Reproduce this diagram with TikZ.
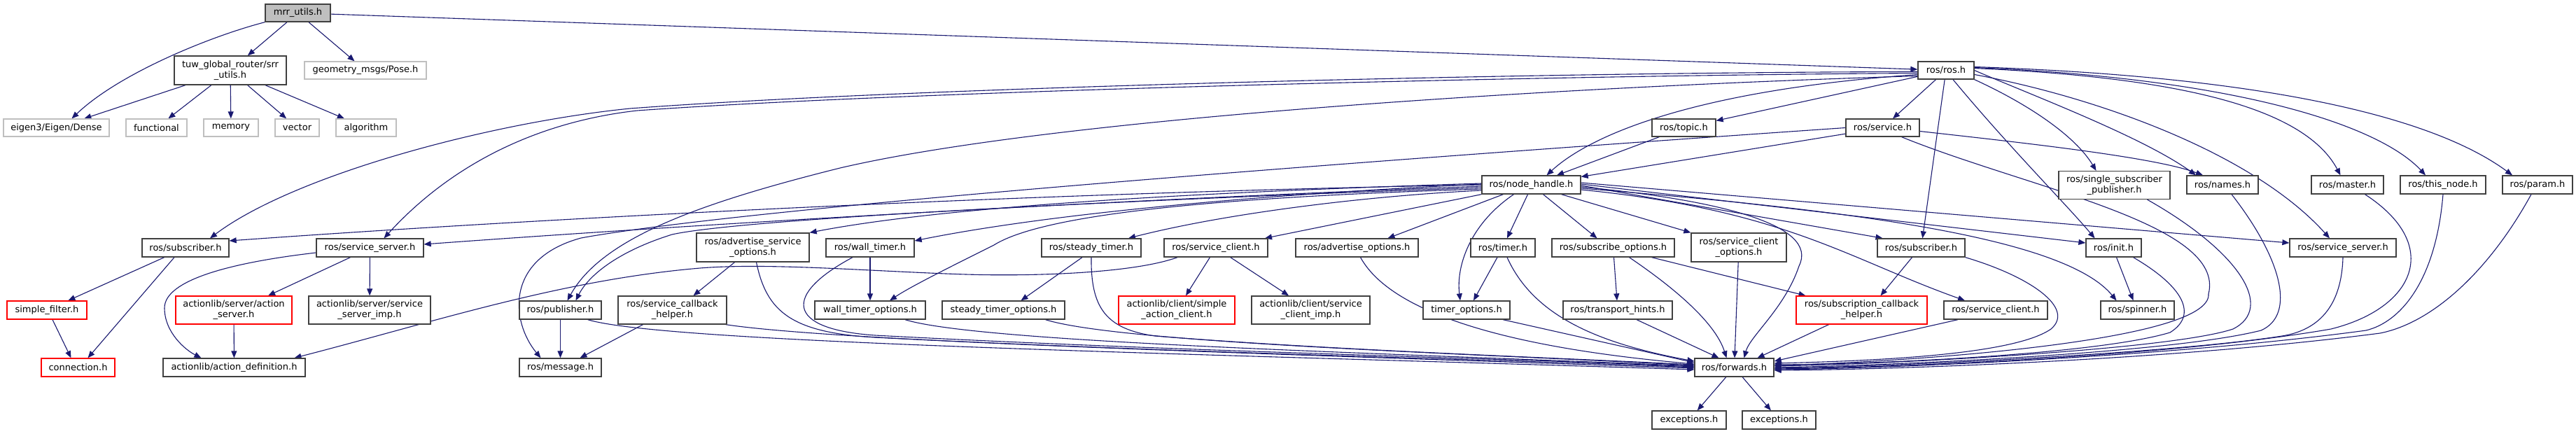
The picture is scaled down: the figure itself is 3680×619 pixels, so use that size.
\documentclass[tikz,border=0pt]{standalone}
\usepackage{fontspec}
\setmainfont{DejaVu Sans}
\usetikzlibrary{arrows.meta}
\definecolor{edgeblue}{HTML}{191970}
\definecolor{nodegray}{HTML}{BFBFBF}
\definecolor{nodeborder}{HTML}{404040}
\pgfdeclarelayer{back}
\pgfdeclarelayer{edges}
\pgfsetlayers{back,edges,main}
\begin{document}
\begin{tikzpicture}[x=1pt,y=-1pt,
  nb/.style={draw=nodeborder, line width=1.3pt, fill=white, inner sep=0pt, align=center, font=\fontsize{13}{15}\selectfont},
  ext/.style={nb, draw=nodegray},
  redn/.style={nb, draw=red},
  root/.style={nb, fill=nodegray},
  dep/.style={draw=edgeblue, line width=1.1pt, -{Triangle[length=10pt,width=8pt]}}]
\begin{pgfonlayer}{back}
\fill[white] (0,0) rectangle (3680,619);
\end{pgfonlayer}
\useasboundingbox (0,0) rectangle (3680,619);
% ---- nodes ----
\node[root, minimum width=93pt, minimum height=25pt] (mrr) at (425.5,18.5) {mrr\_utils.h};
\node[nb, minimum width=160pt, minimum height=41pt] (tuw) at (329,100.5) {tuw\_global\_router/srr\\\_utils.h};
\node[ext, minimum width=174pt, minimum height=25pt] (geom) at (522,100.5) {geometry\_msgs/Pose.h};
\node[nb, minimum width=80pt, minimum height=25pt] (rosh) at (2780,100.5) {ros/ros.h};
\node[ext, minimum width=151pt, minimum height=25pt] (eigen) at (80.5,182.5) {eigen3/Eigen/Dense};
\node[ext, minimum width=87pt, minimum height=25pt] (functional) at (223.5,182.5) {functional};
\node[ext, minimum width=78pt, minimum height=25pt] (memory) at (330,182.5) {memory};
\node[ext, minimum width=63pt, minimum height=25pt] (vector) at (424.5,182.5) {vector};
\node[ext, minimum width=86pt, minimum height=25pt] (algorithm) at (523,182.5) {algorithm};
\node[nb, minimum width=91pt, minimum height=25pt] (topic) at (2405.5,182.5) {ros/topic.h};
\node[nb, minimum width=105pt, minimum height=25pt] (service) at (2689.5,182.5) {ros/service.h};
\node[nb, minimum width=141pt, minimum height=26pt] (nh) at (2187.5,264) {ros/node\_handle.h};
\node[nb, minimum width=159pt, minimum height=40pt] (sspub) at (3020.5,264.5) {ros/single\_subscriber\\\_publisher.h};
\node[nb, minimum width=102pt, minimum height=26pt] (names) at (3175,264) {ros/names.h};
\node[nb, minimum width=103pt, minimum height=26pt] (master) at (3353.5,264) {ros/master.h};
\node[nb, minimum width=122pt, minimum height=26pt] (thisnode) at (3490,264) {ros/this\_node.h};
\node[nb, minimum width=100pt, minimum height=26pt] (param) at (3625,264) {ros/param.h};
\node[nb, minimum width=124pt, minimum height=26pt] (subL) at (265,354) {ros/subscriber.h};
\node[nb, minimum width=153pt, minimum height=26pt] (ssL) at (528.5,354) {ros/service\_server.h};
\node[nb, minimum width=161pt, minimum height=41pt] (aso) at (1075.5,353.5) {ros/advertise\_service\\\_options.h};
\node[nb, minimum width=126pt, minimum height=26pt] (wallt) at (1243,354) {ros/wall\_timer.h};
\node[nb, minimum width=142pt, minimum height=26pt] (steadyt) at (1559,354) {ros/steady\_timer.h};
\node[nb, minimum width=148pt, minimum height=26pt] (scU) at (1737,354) {ros/service\_client.h};
\node[nb, minimum width=175pt, minimum height=26pt] (advo) at (1938.5,354) {ros/advertise\_options.h};
\node[nb, minimum width=92pt, minimum height=26pt] (timer) at (2147,354) {ros/timer.h};
\node[nb, minimum width=175pt, minimum height=26pt] (subo) at (2304.5,354) {ros/subscribe\_options.h};
\node[nb, minimum width=136pt, minimum height=41pt] (sco) at (2484,353.5) {ros/service\_client\\\_options.h};
\node[nb, minimum width=125pt, minimum height=26pt] (subR) at (2744.5,354) {ros/subscriber.h};
\node[nb, minimum width=79pt, minimum height=26pt] (init) at (3019.5,354) {ros/init.h};
\node[nb, minimum width=152pt, minimum height=26pt] (ssR) at (3347,354) {ros/service\_server.h};
\node[redn, minimum width=114pt, minimum height=26pt] (sfilter) at (67,443) {simple\_filter.h};
\node[redn, minimum width=166pt, minimum height=40pt] (aserver) at (334,443) {actionlib/server/action\\\_server.h};
\node[nb, minimum width=174pt, minimum height=40pt] (ssimp) at (528,443) {actionlib/server/service\\\_server\_imp.h};
\node[nb, minimum width=117pt, minimum height=26pt] (pub) at (800.5,443) {ros/publisher.h};
\node[nb, minimum width=155pt, minimum height=40pt] (sch) at (960.5,443) {ros/service\_callback\\\_helper.h};
\node[nb, minimum width=158pt, minimum height=26pt] (wto) at (1243,443) {wall\_timer\_options.h};
\node[nb, minimum width=175pt, minimum height=26pt] (sto) at (1433.5,443) {steady\_timer\_options.h};
\node[redn, minimum width=166pt, minimum height=40pt] (sac) at (1681,443) {actionlib/client/simple\\\_action\_client.h};
\node[nb, minimum width=169pt, minimum height=40pt] (sci) at (1872.5,443) {actionlib/client/service\\\_client\_imp.h};
\node[nb, minimum width=124pt, minimum height=26pt] (tio) at (2095,443) {timer\_options.h};
\node[nb, minimum width=156pt, minimum height=26pt] (th) at (2311,443) {ros/transport\_hints.h};
\node[redn, minimum width=187pt, minimum height=40pt] (scbh) at (2659.5,443) {ros/subscription\_callback\\\_helper.h};
\node[nb, minimum width=148pt, minimum height=26pt] (scL) at (2851,443) {ros/service\_client.h};
\node[nb, minimum width=105pt, minimum height=26pt] (spinner) at (3053.5,443) {ros/spinner.h};
\node[redn, minimum width=105pt, minimum height=26pt] (conn) at (111.5,525) {connection.h};
\node[nb, minimum width=203pt, minimum height=26pt] (adef) at (334.5,525) {actionlib/action\_definition.h};
\node[nb, minimum width=117pt, minimum height=26pt] (msg) at (800.5,525) {ros/message.h};
\node[nb, minimum width=113pt, minimum height=26pt] (fwd) at (2477.5,525) {ros/forwards.h};
\node[nb, minimum width=106pt, minimum height=26pt] (exc1) at (2413,600) {exceptions.h};
\node[nb, minimum width=105pt, minimum height=26pt] (exc2) at (2541.5,600) {exceptions.h};
% ---- edges ----
\begin{pgfonlayer}{edges}
% mrr_utils.h
\draw[dep] (mrr.south west) .. controls (300,52) and (170,105) .. ([xshift=22pt]eigen.north);
\draw[dep] (mrr) -- (tuw);
\draw[dep] (mrr) -- (geom);
\draw[dep] (mrr) -- (rosh);
% srr_utils.h
\draw[dep] (tuw) -- (eigen);
\draw[dep] (tuw) -- (functional);
\draw[dep] (tuw) -- (memory);
\draw[dep] (tuw) -- (vector);
\draw[dep] (tuw) -- (algorithm);
% ros.h
\draw[dep] ([yshift=-6pt]rosh.west) .. controls (2430,128) and (2275,190) .. ([xshift=22pt]nh.north);
\draw[dep] (rosh) -- (topic);
\draw[dep] (rosh) -- (service);
\draw[dep] (rosh) -- (subR);
\draw[dep] ([yshift=-2pt]rosh.west) .. controls (2200,103) and (1300,125) .. (900,155) .. controls (700,175) and (420,250) .. ([xshift=35pt]subL.north);
\draw[dep] ([yshift=-4pt]rosh.west) .. controls (2200,108) and (1300,130) .. (910,158) .. controls (760,175) and (640,240) .. ([xshift=20pt]ssL.north);
\draw[dep] ([yshift=-8pt]rosh.west) .. controls (2200,125) and (1500,170) .. (1200,240) .. controls (1000,290) and (860,340) .. ([xshift=10pt]pub.north);
\draw[dep] (rosh.south east) .. controls (2900,150) and (2965,195) .. ([xshift=-26pt]sspub.north);
\draw[dep] (rosh.east) .. controls (2900,135) and (3060,195) .. ([xshift=-38pt]names.north);
\draw[dep] ([yshift=3pt]rosh.east) .. controls (3100,110) and (3290,150) .. ([xshift=-10pt]master.north);
\draw[dep] ([yshift=4pt]rosh.east) .. controls (3200,112) and (3400,180) .. ([xshift=-25pt]thisnode.north);
\draw[dep] ([yshift=5pt]rosh.east) .. controls (3250,110) and (3480,170) .. ([xshift=-36pt]param.north);
\draw[dep] ([yshift=-6pt]rosh.east) .. controls (3000,140) and (3220,220) .. ([xshift=-19pt]ssR.north);
\draw[dep] ([xshift=10pt]rosh.south) .. controls (2870,210) and (2950,290) .. ([xshift=-27pt]init.north);
% topic.h, service.h
\draw[dep] (topic) -- (nh);
\draw[dep] (service) -- (nh);
\draw[dep] ([yshift=-5pt]service.east) .. controls (2900,205) and (3080,225) .. ([xshift=-28pt]names.north);
\draw[dep] (service.west) .. controls (1800,240) and (1050,300) .. (830,340) .. controls (720,370) and (730,460) .. ([xshift=-28pt]msg.north);
\draw[dep] ([xshift=27pt]service.south) .. controls (2900,270) and (3180,320) .. (3155,420) .. controls (3160,490) and (2700,518) .. ([yshift=3pt]fwd.east);
% node_handle.h
\draw[dep] (nh.west) .. controls (1500,275) and (800,310) .. ([yshift=10pt]subL.east);
\draw[dep] ([yshift=-2pt]nh.west) .. controls (1600,285) and (1000,320) .. ([yshift=5pt]ssL.east);
\draw[dep] ([yshift=-4pt]nh.west) .. controls (1500,290) and (1050,315) .. (960,335) .. controls (880,360) and (840,395) .. ([xshift=22pt]pub.north);
\draw[dep] ([yshift=2pt]nh.west) .. controls (1700,275) and (1350,295) .. (aso.north east);
\draw[dep] ([yshift=1pt]nh.west) .. controls (1800,278) and (1500,305) .. ([yshift=10pt]wallt.east);
\draw[dep] ([yshift=-6pt]nh.west) .. controls (1800,280) and (1500,300) .. (1420,350) .. controls (1350,385) and (1300,410) .. ([xshift=28pt]wto.north);
\draw[dep] ([yshift=-8pt]nh.west) .. controls (1950,280) and (1750,305) .. ([xshift=53pt]steadyt.north);
\draw[dep] (nh.south west) -- ([xshift=70pt]scU.north);
\draw[dep] ([xshift=-40pt]nh.south) -- ([xshift=44pt]advo.north);
\draw[dep] ([xshift=-25pt]nh.south) .. controls (2100,320) and (2080,380) .. ([xshift=-9pt]tio.north);
\draw[dep] ([xshift=-5pt]nh.south) -- ([xshift=6pt]timer.north);
\draw[dep] ([xshift=17pt]nh.south) -- ([xshift=-23pt]subo.north);
\draw[dep] ([xshift=43pt]nh.south) -- (sco.north west);
\draw[dep] ([yshift=-3pt]nh.east) .. controls (2450,285) and (2600,320) .. (2570,380) .. controls (2550,440) and (2500,480) .. ([xshift=14pt]fwd.north);
\draw[dep] ([yshift=-1pt]nh.east) -- ([xshift=-55pt]subR.north);
\draw[dep] ([yshift=-7pt]nh.east) .. controls (2550,300) and (2640,370) .. ([xshift=-44pt]scL.north);
\draw[dep] ([yshift=1pt]nh.east) -- ([yshift=7pt]init.west);
\draw[dep] ([yshift=3pt]nh.east) -- ([yshift=7pt]ssR.west);
\draw[dep] ([yshift=-5pt]nh.east) .. controls (2650,300) and (2950,340) .. ([xshift=-30pt]spinner.north);
% left part
\draw[dep] (subL) -- (sfilter);
\draw[dep] ([xshift=-16pt]subL.south) -- ([xshift=14pt]conn.north);
\draw[dep] ([xshift=8pt]sfilter.south) -- ([xshift=-10pt]conn.north);
\draw[dep] ([yshift=-7pt]ssL.west) .. controls (330,375) and (235,400) .. (235,440) .. controls (235,475) and (265,500) .. ([xshift=-47pt]adef.north);
\draw[dep] ([xshift=-28pt]ssL.south) -- ([xshift=49pt]aserver.north);
\draw[dep] (ssL) -- (ssimp);
\draw[dep] (aserver) -- (adef);
\draw[dep] ([xshift=-55pt]scU.south) .. controls (1620,390) and (1480,395) .. (1380,392) .. controls (1250,388) and (1100,375) .. (1000,383) .. controls (800,400) and (620,460) .. ([xshift=86pt]adef.north);
\draw[dep] (scU) -- (sac);
\draw[dep] (scU) -- (sci);
\draw[dep] ([xshift=-26pt]aso.south) -- ([xshift=30pt]sch.north);
\draw[dep] ([xshift=-42pt]sch.south) -- ([xshift=28pt]msg.north);
\draw[dep] (pub) -- (msg);
\draw[dep] (wallt) -- (wto);
\draw[dep] ([xshift=-13pt]steadyt.south) -- ([xshift=25pt]sto.north);
\draw[dep] ([xshift=-8pt]timer.south) -- ([xshift=10pt]tio.north);
\draw[dep] (subo) -- (th);
\draw[dep] ([xshift=55pt]subo.south) -- ([xshift=-80pt]scbh.north);
\draw[dep] ([xshift=-13pt]subR.south) -- ([xshift=27pt]scbh.north);
\draw[dep] ([xshift=4pt]init.south) -- ([xshift=-6pt]spinner.north);
% into forwards.h from the left
\draw[dep] ([xshift=-20pt]pub.south east) .. controls (950,490) and (1700,505) .. ([yshift=-3pt]fwd.west);
\draw[dep] ([xshift=-2pt]sch.south east) .. controls (1200,488) and (1800,505) .. ([yshift=-1pt]fwd.west);
\draw[dep] ([xshift=5pt]aso.south) .. controls (1095,445) and (1130,475) .. (1250,482) .. controls (1700,505) and (2200,515) .. (fwd.west);
\draw[dep] ([xshift=-25pt]wallt.south) .. controls (1120,420) and (1120,470) .. (1250,479) .. controls (1700,503) and (2200,513) .. ([yshift=1pt]fwd.west);
\draw[dep] ([xshift=50pt]wto.south) .. controls (1400,490) and (2000,505) .. ([yshift=2pt]fwd.west);
\draw[dep] ([xshift=60pt]sto.south) .. controls (1600,490) and (2100,505) .. ([yshift=3pt]fwd.west);
\draw[dep] (steadyt.south) .. controls (1558,440) and (1580,470) .. (1650,480) .. controls (1900,500) and (2200,510) .. ([yshift=4pt]fwd.west);
\draw[dep] ([xshift=5pt]advo.south) .. controls (2000,470) and (2250,505) .. ([yshift=5pt]fwd.west);
\draw[dep] ([xshift=6pt]timer.south) .. controls (2190,450) and (2280,490) .. ([yshift=9pt]fwd.west);
\draw[dep] ([xshift=52pt]tio.south) -- ([yshift=7pt]fwd.west);
\draw[dep] ([xshift=27pt]th.south) -- ([xshift=-22pt]fwd.north);
\draw[dep] ([xshift=23pt]subo.south) .. controls (2390,410) and (2450,460) .. ([xshift=-11pt]fwd.north);
\draw[dep] (sco) -- (fwd);
\draw[dep] ([xshift=-47pt]scbh.south) -- ([xshift=33pt]fwd.north);
% into forwards.h from the right
\draw[dep] ([xshift=-54pt]scL.south) -- ([yshift=9pt]fwd.east);
\draw[dep] (subR.south east) .. controls (2900,395) and (2965,440) .. (2930,470) .. controls (2880,505) and (2700,515) .. ([yshift=6pt]fwd.east);
\draw[dep] ([xshift=28pt]init.south) .. controls (3120,410) and (3140,450) .. (3100,475) .. controls (3000,505) and (2700,520) .. ([yshift=4pt]fwd.east);
\draw[dep] ([xshift=47pt]sspub.south) .. controls (3200,360) and (3250,440) .. (3190,470) .. controls (3100,500) and (2700,520) .. ([yshift=2pt]fwd.east);
\draw[dep] ([xshift=13pt]names.south) .. controls (3260,370) and (3280,450) .. (3230,472) .. controls (3100,505) and (2700,522) .. (fwd.east);
\draw[dep] (ssR.south) .. controls (3345,440) and (3310,472) .. (3260,480) .. controls (3100,505) and (2700,524) .. ([yshift=-1pt]fwd.east);
\draw[dep] ([xshift=25pt]master.south) .. controls (3490,350) and (3450,440) .. (3330,470) .. controls (3100,510) and (2700,525) .. ([yshift=-2pt]fwd.east);
\draw[dep] (thisnode.south) .. controls (3480,400) and (3430,460) .. (3380,472) .. controls (3100,510) and (2700,526) .. ([yshift=-3pt]fwd.east);
\draw[dep] ([xshift=-9pt]param.south) .. controls (3560,380) and (3480,460) .. (3400,476) .. controls (3100,515) and (2700,528) .. ([yshift=-4pt]fwd.east);
% forwards.h
\draw[dep] (fwd) -- (exc1);
\draw[dep] (fwd) -- (exc2);
\end{pgfonlayer}
\end{tikzpicture}
\end{document}
